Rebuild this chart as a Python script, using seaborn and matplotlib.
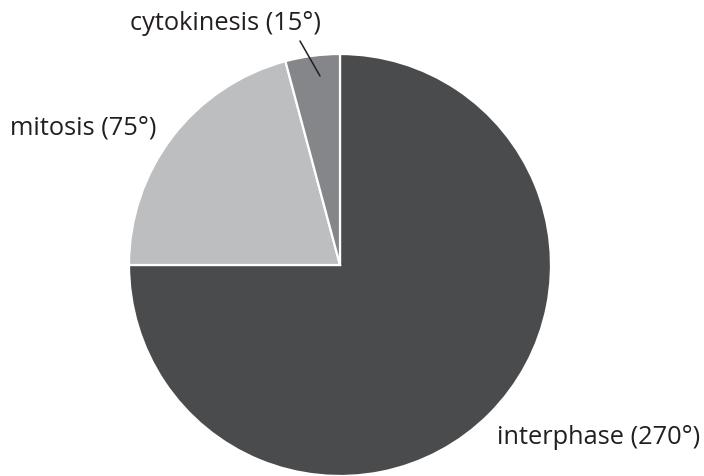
"""Cell cycle pie chart"""
import matplotlib
matplotlib.use('Agg')
import matplotlib.pyplot as plt
import seaborn as sns

sns.set_theme(style="white")
plt.rcParams['font.family'] = ['Open Sans', 'DejaVu Sans']

phases = ['interphase', 'mitosis', 'cytokinesis']
degrees = [270, 75, 15]
colors = ['#4a4b4d', '#bdbec0', '#858689']

fig = plt.figure(figsize=(7.04, 4.76), dpi=100)
ax = fig.add_axes([0, 0, 1, 1])

cx, cy, r = 340, 476 - 265, 211
ax.pie(degrees, colors=colors, startangle=90, counterclock=False,
       center=(cx, cy), radius=r, frame=True,
       wedgeprops=dict(edgecolor='white', linewidth=1.6))
ax.set_xlim(0, 704)
ax.set_ylim(0, 476)
ax.set_aspect('equal')
ax.axis('off')

fs = 18.3
ax.text(130, 476 - 23, f'{phases[2]} ({degrees[2]}°)', fontsize=fs,
        color='#231f20', ha='left', va='center')
ax.plot([300, 320], [476 - 41, 476 - 76], color='#231f20', linewidth=1.1)
ax.text(10, 476 - 128, f'{phases[1]} ({degrees[1]}°)', fontsize=fs,
        color='#231f20', ha='left', va='center')
ax.text(497, 476 - 437, f'{phases[0]} ({degrees[0]}°)', fontsize=fs,
        color='#231f20', ha='left', va='center')

plt.savefig('out.png', dpi=100)
plt.close()
